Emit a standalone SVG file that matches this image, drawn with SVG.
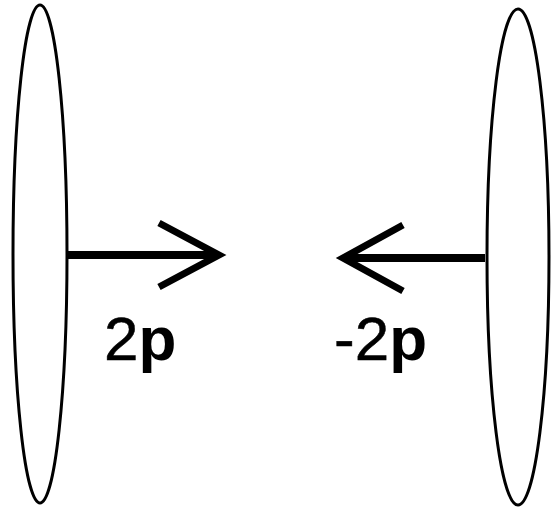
<svg xmlns="http://www.w3.org/2000/svg" width="554" height="509" viewBox="0 0 554 509">
<style>
.ring{fill:none;stroke:#000;stroke-width:3}
.shaft{stroke:#000;stroke-width:8;fill:none}
.head{stroke:#000;stroke-width:7;fill:none;stroke-linecap:butt;stroke-linejoin:miter}
.lbl{font-family:"Liberation Sans",Arial,sans-serif;font-size:62px;fill:#000;stroke:#000;stroke-width:0.5}
.b{font-weight:bold;stroke:none}
</style>
<rect width="554" height="509" fill="#fff"/>
<g id="left-disc"><ellipse class="ring" cx="40" cy="254" rx="27" ry="249"/></g>
<g id="right-disc"><ellipse class="ring" cx="518" cy="257" rx="31" ry="248"/></g>
<g id="connectors">
<line class="shaft" x1="67" y1="255" x2="218" y2="255"/>
<polyline class="head" points="159,223 219,255 159,287"/>
<line class="shaft" x1="485" y1="258" x2="344" y2="258"/>
<polyline class="head" points="403,225 343,258 403,291"/>
</g>
<g id="label-left"><text class="lbl" x="104" y="360">2<tspan class="b">p</tspan></text></g>
<g id="label-right"><text class="lbl" x="334" y="360">-2<tspan class="b">p</tspan></text></g>
</svg>
